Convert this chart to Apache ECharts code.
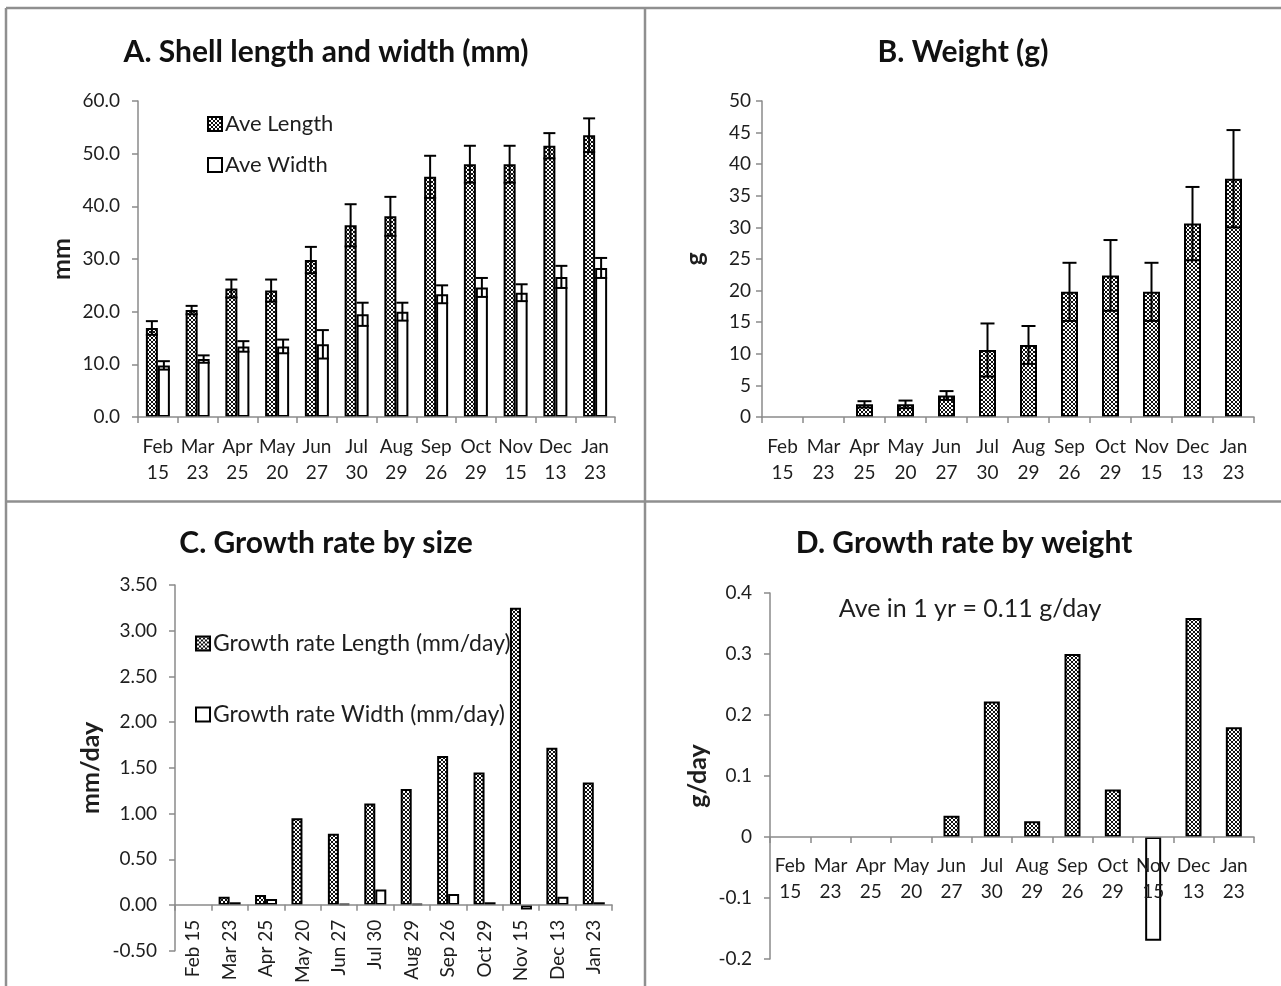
<!DOCTYPE html>
<html>
<head>
<meta charset="utf-8">
<script src="https://cdn.jsdelivr.net/npm/echarts@6/dist/echarts.min.js"></script>
<style>
html,body{margin:0;padding:0;background:#fff;}
#chart{width:1281px;height:986px;}
</style>
</head>
<body>
<div id="chart"></div>
<script>
// ---------------- data ----------------
const categories = ['Feb 15','Mar 23','Apr 25','May 20','Jun 27','Jul 30','Aug 29','Sep 26','Oct 29','Nov 15','Dec 13','Jan 23'];

const aveLength    = [16.9, 20.3, 24.4, 24.0, 29.8, 36.4, 38.1, 45.6, 48.0, 48.0, 51.5, 53.5];
const aveLengthErr = [1.3, 0.8, 1.7, 2.1, 2.5, 4.0, 3.7, 4.0, 3.5, 3.5, 2.4, 3.2];
const aveWidth     = [9.8, 11.0, 13.4, 13.4, 13.8, 19.5, 20.0, 23.3, 24.6, 23.6, 26.6, 28.3];
const aveWidthErr  = [0.8, 0.7, 1.0, 1.3, 2.7, 2.2, 1.7, 1.7, 1.8, 1.6, 2.1, 1.9];

const weight    = [null, null, 2.0, 2.0, 3.4, 10.6, 11.4, 19.8, 22.4, 19.8, 30.6, 37.7];
const weightErr = [null, null, 0.5, 0.6, 0.7, 4.2, 3.0, 4.6, 5.6, 4.6, 5.8, 7.7];

const rateLength = [null, 0.09, 0.11, 0.95, 0.78, 1.11, 1.27, 1.63, 1.45, 3.25, 1.72, 1.34];
const rateWidth  = [null, 0.03, 0.065, null, 0.01, 0.17, 0.01, 0.12, 0.03, -0.05, 0.09, 0.03];

const rateWeight = [null, null, null, null, 0.035, 0.222, 0.026, 0.300, 0.078, -0.170, 0.359, 0.180];

const titles = ['A. Shell length and width (mm)', 'B. Weight (g)', 'C. Growth rate by size', 'D. Growth rate by weight'];
const yNames = ['mm', 'g', 'mm/day', 'g/day'];
const note = 'Ave in 1 yr = 0.11 g/day';

// ---------------- styles ----------------
const FONT = 'Lato, "Open Sans", sans-serif';
const AXIS_COLOR = '#8a8a8a';
const TEXT = '#1e1e1e';
const TICK_FS = 19;

function makePattern() {
  const c = document.createElement('canvas');
  c.width = 4; c.height = 4;
  const g = c.getContext('2d');
  g.fillStyle = '#111';
  g.fillRect(0, 0, 4, 4);
  g.fillStyle = '#fff';
  g.fillRect(1, 1, 2, 2);
  g.fillRect(3, 3, 1, 1);
  g.fillRect(0, 3, 1, 1);
  g.fillRect(3, 0, 1, 1);
  g.fillRect(0, 0, 1, 1);
  return {image: c, repeat: 'repeat'};
}
const hatch = makePattern();

function errData(vals, errs) {
  const out = [];
  vals.forEach((v, i) => { if (v != null && errs[i] != null) out.push([i, v - errs[i], v + errs[i]]); });
  return out;
}
function errorRender(offset, capW) {
  return function (params, api) {
    const i = api.value(0);
    const lo = api.coord([i, api.value(1)]);
    const hi = api.coord([i, api.value(2)]);
    const x = lo[0] + offset;
    const st = {stroke: '#000', lineWidth: 2};
    return {type: 'group', children: [
      {type: 'line', shape: {x1: x, y1: lo[1], x2: x, y2: hi[1]}, style: st},
      {type: 'line', shape: {x1: x - capW / 2, y1: hi[1], x2: x + capW / 2, y2: hi[1]}, style: st},
      {type: 'line', shape: {x1: x - capW / 2, y1: lo[1], x2: x + capW / 2, y2: lo[1]}, style: st}
    ]};
  };
}
function invertNeg(vals) {
  return vals.map(v => (v != null && v < 0) ? {value: v, itemStyle: {color: '#fff'}} : v);
}

const grids = [
  {left: 138, top: 101, width: 477, height: 316},
  {left: 762, top: 101, width: 492, height: 316},
  {left: 175, top: 585, width: 437, height: 368},
  {left: 770, top: 593, width: 484, height: 366}
];
const titleCenters = [[326, 52], [963, 52], [326, 543], [964, 543]];

// offset of the category axis so that it sits on the zero line
function zeroOffset(idx, min, max) {
  return -grids[idx].height * (0 - min) / (max - min);
}

function xAxis(idx, opts) {
  return Object.assign({
    type: 'category', gridIndex: idx, data: categories, position: 'bottom', z: 5,
    axisLine: {show: true, onZero: false, lineStyle: {color: AXIS_COLOR, width: 1.5}},
    axisTick: {show: true, length: 6, alignWithLabel: false, lineStyle: {color: AXIS_COLOR, width: 1.5}},
    axisLabel: {
      color: TEXT, fontFamily: FONT, fontSize: TICK_FS, lineHeight: 26, margin: 17, interval: 0,
      formatter: v => v.replace(' ', '\n')
    }
  }, opts || {});
}
function yAxis(idx, min, max, interval, dec, gap, labelMargin) {
  return {
    type: 'value', gridIndex: idx, min: min, max: max, interval: interval,
    name: yNames[idx], nameLocation: 'middle', nameRotate: 90, nameGap: gap,
    nameTextStyle: {color: TEXT, fontFamily: FONT, fontSize: 25, fontWeight: 'bold'},
    splitLine: {show: false},
    axisLine: {show: true, onZero: false, lineStyle: {color: AXIS_COLOR, width: 1.5}},
    axisTick: {show: true, length: 6, lineStyle: {color: AXIS_COLOR, width: 1.5}},
    axisLabel: {
      color: TEXT, fontFamily: FONT, fontSize: TICK_FS, margin: labelMargin,
      formatter: dec == null ? undefined : (v => v.toFixed(dec))
    }
  };
}

const hatchStyle = {color: hatch, borderColor: '#000', borderWidth: 2};
const whiteStyle = {color: '#fff', borderColor: '#000', borderWidth: 2};

const legendBase = {
  orient: 'horizontal', icon: 'rect', itemWidth: 14, itemHeight: 14, itemGap: 4, padding: 0,
  selectedMode: false
};

const option = {
  animation: false,
  backgroundColor: '#fff',
  title: titles.map((t, i) => ({
    text: t, left: titleCenters[i][0], top: titleCenters[i][1] - 19, textAlign: 'center', padding: 0,
    textStyle: {fontFamily: FONT, fontSize: 30, fontWeight: 'bold', color: '#111', lineHeight: 38}
  })),
  legend: [
    {data: ['Ave Length'], left: 207, top: 113, fs: 22},
    {data: ['Ave Width'], left: 207, top: 154, fs: 22},
    {data: ['Growth rate Length (mm/day)'], left: 195, top: 632, fs: 23},
    {data: ['Growth rate Width (mm/day)'], left: 195, top: 703, fs: 23}
  ].map(l => {
    const fs = l.fs; delete l.fs;
    return Object.assign(l, legendBase, {
      textStyle: {color: TEXT, fontFamily: FONT, fontSize: fs, padding: [0, 0, 0, -2]}
    });
  }),
  grid: grids,
  xAxis: [
    xAxis(0),
    xAxis(1),
    xAxis(2, {offset: zeroOffset(2, -0.5, 3.5),
      axisLabel: {color: TEXT, fontFamily: FONT, fontSize: TICK_FS, rotate: 90, margin: 15, interval: 0}}),
    xAxis(3, {offset: zeroOffset(3, -0.2, 0.4),
      axisLabel: {color: TEXT, fontFamily: FONT, fontSize: TICK_FS, lineHeight: 26, margin: 16, interval: 0,
      formatter: v => v.replace(' ', '\n')}})
  ],
  yAxis: [
    yAxis(0, 0, 60, 10, 1, 64, 18),
    yAxis(1, 0, 50, 5, null, 55, 11),
    yAxis(2, -0.5, 3.5, 0.5, 2, 72, 18),
    yAxis(3, -0.2, 0.4, 0.1, null, 60, 18)
  ],
  graphic: [
    {type: 'line', shape: {x1: 6, y1: 8, x2: 1281, y2: 8}, style: {stroke: '#8f8f8f', lineWidth: 2.5}, silent: true},
    {type: 'line', shape: {x1: 6, y1: 8, x2: 6, y2: 986}, style: {stroke: '#8f8f8f', lineWidth: 2.5}, silent: true},
    {type: 'line', shape: {x1: 645, y1: 8, x2: 645, y2: 986}, style: {stroke: '#8f8f8f', lineWidth: 2.5}, silent: true},
    {type: 'line', shape: {x1: 6, y1: 501.5, x2: 1281, y2: 501.5}, style: {stroke: '#8f8f8f', lineWidth: 2.5}, silent: true},
    {type: 'text', x: 970, y: 609, silent: true,
      style: {text: note, fill: TEXT, font: '25px ' + FONT, align: 'center', verticalAlign: 'middle'}}
  ],
  series: [
    {name: 'Ave Length', type: 'bar', xAxisIndex: 0, yAxisIndex: 0, data: aveLength, barWidth: 12, barGap: '0%', itemStyle: hatchStyle},
    {name: 'Ave Width', type: 'bar', xAxisIndex: 0, yAxisIndex: 0, data: aveWidth, barWidth: 12, barGap: '0%', itemStyle: whiteStyle},
    {name: 'errL', type: 'custom', xAxisIndex: 0, yAxisIndex: 0, data: errData(aveLength, aveLengthErr),
      encode: {x: 0, y: [1, 2]}, renderItem: errorRender(-6, 12), z: 5},
    {name: 'errW', type: 'custom', xAxisIndex: 0, yAxisIndex: 0, data: errData(aveWidth, aveWidthErr),
      encode: {x: 0, y: [1, 2]}, renderItem: errorRender(6, 12), z: 5},

    {name: 'Weight', type: 'bar', xAxisIndex: 1, yAxisIndex: 1, data: weight, barWidth: 17, itemStyle: hatchStyle},
    {name: 'errWt', type: 'custom', xAxisIndex: 1, yAxisIndex: 1, data: errData(weight, weightErr),
      encode: {x: 0, y: [1, 2]}, renderItem: errorRender(0, 14), z: 5},

    {name: 'Growth rate Length (mm/day)', type: 'bar', xAxisIndex: 2, yAxisIndex: 2, data: rateLength, barWidth: 11, barGap: '0%', itemStyle: hatchStyle},
    {name: 'Growth rate Width (mm/day)', type: 'bar', xAxisIndex: 2, yAxisIndex: 2, data: rateWidth, barWidth: 11, barGap: '0%', itemStyle: whiteStyle},

    {name: 'Growth rate weight', type: 'bar', xAxisIndex: 3, yAxisIndex: 3, data: invertNeg(rateWeight), barWidth: 16, itemStyle: hatchStyle}
  ]
};

const chart = echarts.init(document.getElementById('chart'), null, {renderer: 'canvas'});
chart.setOption(option);
</script>
</body>
</html>
